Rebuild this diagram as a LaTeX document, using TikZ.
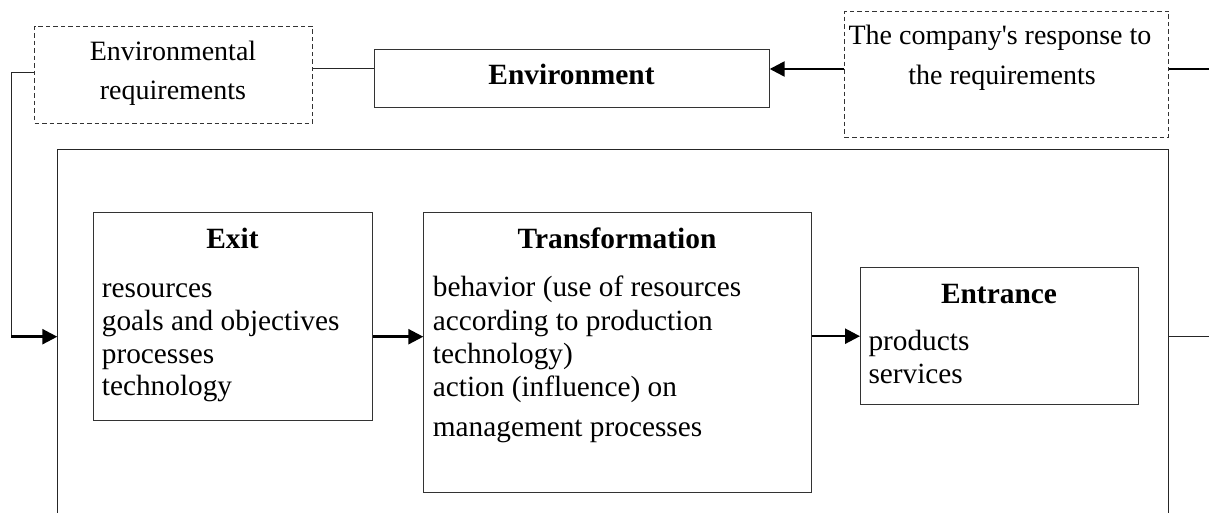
\documentclass[tikz,border=0pt]{standalone}
\usepackage{fontspec}
\setmainfont{Liberation Serif}
\usetikzlibrary{arrows.meta}
\begin{document}
\begin{tikzpicture}[x=1pt,y=-1pt,
  box/.style={draw=black!80, line width=1pt, inner sep=0pt, anchor=north west},
  dbox/.style={box, dash pattern=on 4.5pt off 3pt},
  stxt/.style={inner sep=0pt, font=\fontsize{28}{32}\selectfont},
  txt/.style={inner sep=0pt, font=\fontsize{29.3}{33}\selectfont},
  ttl/.style={inner sep=0pt, font=\fontsize{29.4}{33}\selectfont\bfseries},
  conn/.style={line width=1pt, draw=black!85},
  heavy/.style={line width=2.5pt, draw=black},
  arr/.style={heavy, -{Triangle[length=15pt,width=15pt]}}]
\useasboundingbox (0,0) rectangle (1209,513);

% top row boxes
\node[dbox, minimum width=278pt, minimum height=97pt] (envreq) at (34,25.7) {};
\node[box, minimum width=394.4pt, minimum height=58pt] (env) at (374.3,49.3) {};
\node[dbox, minimum width=324.3pt, minimum height=126pt] (resp) at (844,10.7) {};

% outer frame (open at the bottom)
\node[inner sep=0pt, anchor=north west, minimum width=1110.4pt, minimum height=366pt] (outer) at (57.3,150) {};
\draw[conn] (outer.south west) -- (outer.north west) -- (outer.north east) -- (outer.south east);

% inner boxes
\node[box, minimum width=279pt, minimum height=208pt] (exit) at (93,212) {};
\node[box, minimum width=387.7pt, minimum height=279.4pt] (trans) at (423.3,212.3) {};
\node[box, minimum width=278.3pt, minimum height=136.7pt] (entr) at (860,267.3) {};

% texts
\node[stxt, anchor=base] (t1) at (173,61) {Environmental};
\node[stxt, anchor=base] (t2) at (173,99.3) {requirements};
\node[ttl, anchor=base] (t3) at (571.5,85) {Environment};
\node[stxt, anchor=base] (t4) at (1000,45) {The company\textquotesingle s response to};
\node[stxt, anchor=base] (t5) at (1002,84.5) {the requirements};

\node[ttl, anchor=base] (e0) at (232.5,248) {Exit};
\node[txt, anchor=base west] (e1) at (101.7,297) {resources};
\node[txt, anchor=base west] (e2) at (101.7,330) {goals and objectives};
\node[txt, anchor=base west] (e3) at (101.7,363) {processes};
\node[txt, anchor=base west] (e4) at (101.7,395.5) {technology};

\node[ttl, anchor=base] (r0) at (617,248.3) {Transformation};
\node[txt, anchor=base west] (r1) at (432.7,296.7) {behavior (use of resources};
\node[txt, anchor=base west] (r2) at (432.7,330) {according to production};
\node[txt, anchor=base west] (r3) at (432.7,363.3) {technology)};
\node[txt, anchor=base west] (r4) at (432.7,396.7) {action (influence) on};
\node[txt, anchor=base west] (r5) at (432.7,436.7) {management processes};

\node[ttl, anchor=base] (n0) at (999,303.3) {Entrance};
\node[txt, anchor=base west] (n1) at (868.3,350) {products};
\node[txt, anchor=base west] (n2) at (868.3,383.3) {services};

% helper coordinates
\coordinate (ytop) at (0,69);
\coordinate (yleft) at (0,72.3);
\coordinate (ymid) at (0,336.7);
\coordinate (c1) at (11.3,72.3);
\coordinate (c2) at (11.3,336.7);
\coordinate (rtop) at (1209,69);
\coordinate (rmid) at (1209,336.2);

% connectors
\draw[conn] (envreq.east|-ytop) -- (env.west|-ytop);
\draw[arr] (resp.west|-ytop) -- (env.east|-ytop);
\draw[heavy] (resp.east|-ytop) -- (rtop);
\draw[conn] (envreq.west|-yleft) -- (c1) -- (c2);
\draw[arr] (c2) -- (outer.west|-c2);
\draw[arr] (exit.east|-ymid) -- (trans.west|-ymid);
\draw[arr] (trans.east|-rmid) -- (entr.west|-rmid);
\draw[conn] (outer.east|-rmid) -- (rmid);
\end{tikzpicture}
\end{document}
